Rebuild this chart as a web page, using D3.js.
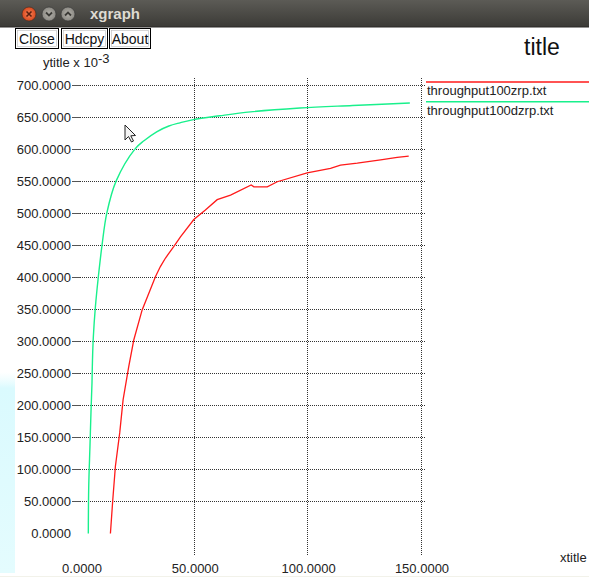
<!DOCTYPE html>
<html>
<head>
<meta charset="utf-8">
<script src="https://cdn.jsdelivr.net/npm/d3@7"></script>
<style>
  html, body { margin: 0; padding: 0; background: #fff; }
  svg { display: block; font-family: "Liberation Sans", Arial, sans-serif; }
</style>
</head>
<body>
<svg id="win" width="589" height="577"></svg>
<script>
// Series: throughput over time (x in seconds, y in units of 10^-3)
const zrpX  = [13.2, 14.25, 15.4, 17.3, 18.8, 21.3, 23.5, 27.2, 33.1, 35.3, 37.5, 41.2, 44.1, 50.0, 55.1, 60.3, 66.2, 75.3, 76.5, 82.4, 86.8, 100.0, 110.3, 114.7, 122.1, 132.4, 139.7, 144.8];
const zrpY  = [0, 53, 105, 157, 209, 261, 302, 349, 401, 417, 430, 448, 463, 490, 505, 521, 528, 544, 541, 541, 549, 563, 570, 575, 578, 583, 587, 589];

const dzrpX = [3.45, 3.62, 4.19, 4.63, 5.07, 5.29, 5.65, 6.6, 7.85, 9.5, 11.6, 15.7, 24.0, 28.0, 33.6, 39.0, 43.9, 49.8, 61.5, 75.0, 96.8, 120.0, 145.3];
const dzrpY = [0, 71, 138, 190, 235, 271, 306, 355, 400, 450, 500, 550, 600, 613, 627, 636, 641, 646, 652, 658, 664, 668, 672];

const seriesNames = ["throughput100zrp.txt", "throughput100dzrp.txt"];
const seriesColors = ["#ff1a1a", "#19f08c"];

const xTicks = [0, 50, 100, 150];
const yTicks = [0, 50, 100, 150, 200, 250, 300, 350, 400, 450, 500, 550, 600, 650, 700];
const tickFmt = d3.format(".4f");

const svg = d3.select("#win");
const W = 589;

// ---- window chrome ----
const defs = svg.append("defs");
const tb = defs.append("linearGradient").attr("id", "tbar").attr("x1", 0).attr("y1", 0).attr("x2", 0).attr("y2", 1);
tb.append("stop").attr("offset", "0%").attr("stop-color", "#5c5b56");
tb.append("stop").attr("offset", "100%").attr("stop-color", "#3b3a36");
const cy = defs.append("linearGradient").attr("id", "cyan").attr("x1", 0).attr("y1", 0).attr("x2", 0).attr("y2", 1);
cy.append("stop").attr("offset", "0%").attr("stop-color", "#e6fcfe").attr("stop-opacity", 0);
cy.append("stop").attr("offset", "8%").attr("stop-color", "#dafafe");
cy.append("stop").attr("offset", "100%").attr("stop-color", "#e4fcfe");
const cl = defs.append("radialGradient").attr("id", "closeBtn");
cl.append("stop").attr("offset", "0%").attr("stop-color", "#f6845a");
cl.append("stop").attr("offset", "100%").attr("stop-color", "#d9481d");
const gb = defs.append("radialGradient").attr("id", "grayBtn");
gb.append("stop").attr("offset", "0%").attr("stop-color", "#b5b3ac");
gb.append("stop").attr("offset", "100%").attr("stop-color", "#8b8983");

svg.append("rect").attr("x", 0).attr("y", 0).attr("width", W).attr("height", 27).attr("fill", "url(#tbar)");
svg.append("line").attr("x1", 0).attr("x2", W).attr("y1", 27).attr("y2", 27).attr("stroke", "#2a2926");

const wb = svg.append("g");
wb.append("circle").attr("cx", 29).attr("cy", 14).attr("r", 7).attr("fill", "url(#closeBtn)").attr("stroke", "#3a2a22").attr("stroke-width", 0.6);
wb.append("path").attr("d", "M26.5,11.5L31.5,16.5M31.5,11.5L26.5,16.5").attr("stroke", "#5a2010").attr("stroke-width", 1.6);
wb.append("circle").attr("cx", 49).attr("cy", 14).attr("r", 7).attr("fill", "url(#grayBtn)").attr("stroke", "#333").attr("stroke-width", 0.6);
wb.append("path").attr("d", "M46,12.5L49,15.5L52,12.5").attr("fill", "none").attr("stroke", "#3c3b37").attr("stroke-width", 1.8);
wb.append("circle").attr("cx", 68).attr("cy", 14).attr("r", 7).attr("fill", "url(#grayBtn)").attr("stroke", "#333").attr("stroke-width", 0.6);
wb.append("path").attr("d", "M65,15.5L68,12.5L71,15.5").attr("fill", "none").attr("stroke", "#3c3b37").attr("stroke-width", 1.8);
svg.append("text").attr("x", 90).attr("y", 19).attr("font-size", 15).attr("font-weight", "bold")
  .attr("fill", "#dfdbd2").text("xgraph");

// left light strip
svg.append("rect").attr("x", 0).attr("y", 372).attr("width", 15).attr("height", 201).attr("fill", "url(#cyan)");
svg.append("line").attr("x1", 0).attr("x2", W).attr("y1", 576.5).attr("y2", 576.5).attr("stroke", "#f2f2ea");

// ---- command buttons ----
const buttons = [["Close", 15, 43], ["Hdcpy", 61, 46], ["About", 109, 41]];
const bg = svg.append("g");
buttons.forEach(([label, x, w]) => {
  bg.append("rect").attr("x", x + 0.5).attr("y", 28.5).attr("width", w).attr("height", 20)
    .attr("fill", "#fff").attr("stroke", "#000");
  bg.append("rect").attr("x", x + 2.5).attr("y", 30.5).attr("width", w - 4).attr("height", 16)
    .attr("fill", "none").attr("stroke", "#bbb").attr("stroke-width", 0.6);
  bg.append("text").attr("x", x + 0.5 + w / 2).attr("y", 44).attr("text-anchor", "middle")
    .attr("font-size", 14).attr("fill", "#111").text(label);
});

// ---- titles ----
svg.append("text").attr("x", 524).attr("y", 55).attr("font-size", 23).attr("fill", "#111").text("title");
const yt = svg.append("text").attr("x", 43).attr("y", 67).attr("font-size", 13).attr("fill", "#222");
yt.append("tspan").text("ytitle x 10");
yt.append("tspan").attr("dy", -4.5).text("-3");
svg.append("text").attr("x", 560).attr("y", 562).attr("font-size", 13).attr("fill", "#222").text("xtitle");

// ---- scales ----
const x = d3.scaleLinear().domain([0, 150]).range([80.5, 420.5]);
const y = d3.scaleLinear().domain([0, 700]).range([533.5, 85]);

// ---- grid: dotted lines at each tick, none at the origin ----
const grid = svg.append("g");
yTicks.filter(d => d > 0).forEach(d => {
  const yy = Math.round(y(d)) + 0.5;
  grid.append("line").attr("x1", 72).attr("x2", 80).attr("y1", yy).attr("y2", yy).attr("stroke", "#555");
  grid.append("line").attr("x1", 80).attr("x2", 426).attr("y1", yy).attr("y2", yy)
    .attr("stroke", "#333").attr("stroke-dasharray", "1,1");
});
xTicks.filter(d => d > 0).forEach(d => {
  const xx = Math.round(x(d)) + 0.5;
  grid.append("line").attr("x1", xx).attr("x2", xx).attr("y1", 78).attr("y2", 555)
    .attr("stroke", "#333").attr("stroke-dasharray", "1,1");
});

// tick labels
svg.append("g").selectAll("text").data(yTicks).join("text")
  .attr("x", 71).attr("y", d => y(d)).attr("dy", "0.36em").attr("text-anchor", "end")
  .attr("font-size", 13).attr("fill", "#222").text(d => tickFmt(d));
svg.append("g").selectAll("text").data(xTicks).join("text")
  .attr("x", d => x(d) + 1.5).attr("y", 573).attr("text-anchor", "middle")
  .attr("font-size", 13).attr("fill", "#222").text(d => tickFmt(d));

// ---- series ----
const zrp = zrpX.map((v, i) => [v, zrpY[i]]);
const dzrp = dzrpX.map((v, i) => [v, dzrpY[i]]);

svg.append("path").datum(dzrp)
  .attr("fill", "none").attr("stroke", seriesColors[1]).attr("stroke-width", 1.4)
  .attr("d", d3.line().x(d => x(d[0])).y(d => y(d[1])).curve(d3.curveCatmullRom.alpha(0.5)));
svg.append("path").datum(zrp)
  .attr("fill", "none").attr("stroke", seriesColors[0]).attr("stroke-width", 1.3)
  .attr("d", d3.line().x(d => x(d[0])).y(d => y(d[1])));

// ---- legend ----
const lg = svg.append("g");
seriesNames.forEach((name, i) => {
  const ly = 82 + i * 19.7;
  lg.append("line").attr("x1", 426).attr("x2", W).attr("y1", ly).attr("y2", ly)
    .attr("stroke", seriesColors[i]).attr("stroke-width", 1.4);
  lg.append("text").attr("x", 427).attr("y", ly + 13).attr("font-size", 13).attr("fill", "#222").text(name);
});

// pointer
svg.append("path")
  .attr("d", "M125,125 L125,140 L128.5,136.5 L131.5,142 L133.5,141 L130.8,135.8 L135.5,135.5 Z")
  .attr("fill", "#f4f4f4").attr("stroke", "#222").attr("stroke-width", 1).attr("stroke-linejoin", "round");
</script>
</body>
</html>
